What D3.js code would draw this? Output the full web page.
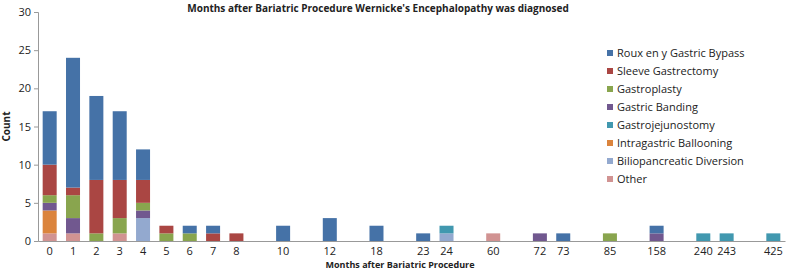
<!DOCTYPE html>
<html>
<head>
<meta charset="utf-8">
<script src="https://cdn.jsdelivr.net/npm/d3@7"></script>
<style>
  body { margin: 0; background: #fff; }
  text { font-family: "Open Sans", "Noto Sans", sans-serif; fill: #222; }
</style>
</head>
<body>
<div id="chart"></div>
<script>
// x categories, "" = empty slot on the axis
const months = ["0","1","2","3","4","5","6","7","8","","10","","12","","18","","23","24","","60","","72","73","","85","","158","","240","243","","425"]

// series in stacking order (bottom first)
const seriesNames = ["Other", "Biliopancreatic Diversion", "Intragastric Ballooning", "Gastrojejunostomy",
    "Gastric Banding", "Gastroplasty", "Sleeve Gastrectomy", "Roux en y Gastric Bypass"]
const seriesColors = ["#D19392", "#93A9CF", "#DB843D", "#4198AF", "#71588F", "#89A54E", "#AA4643", "#4572A7"]

// counts per month slot, same order as months
const other        = [1,1,0,1,0,0,0,0,0,0,0,0,0,0,0,0,0,0,0,1,0,0,0,0,0,0,0,0,0,0,0,0]
const bilio        = [0,0,0,0,3,0,0,0,0,0,0,0,0,0,0,0,0,1,0,0,0,0,0,0,0,0,0,0,0,0,0,0]
const intragastric = [3,0,0,0,0,0,0,0,0,0,0,0,0,0,0,0,0,0,0,0,0,0,0,0,0,0,0,0,0,0,0,0]
const gastrojej    = [0,0,0,0,0,0,0,0,0,0,0,0,0,0,0,0,0,1,0,0,0,0,0,0,0,0,0,0,1,1,0,1]
const banding      = [1,2,0,0,1,0,0,0,0,0,0,0,0,0,0,0,0,0,0,0,0,1,0,0,0,0,1,0,0,0,0,0]
const gastroplasty = [1,3,1,2,1,1,1,0,0,0,0,0,0,0,0,0,0,0,0,0,0,0,0,0,1,0,0,0,0,0,0,0]
const sleeve       = [4,1,7,5,3,1,0,1,1,0,0,0,0,0,0,0,0,0,0,0,0,0,0,0,0,0,0,0,0,0,0,0]
const roux         = [7,17,11,9,4,0,1,1,0,0,2,0,3,0,2,0,1,0,0,0,0,0,1,0,0,0,1,0,0,0,0,0]
const seriesValues = [other, bilio, intragastric, gastrojej, banding, gastroplasty, sleeve, roux]

const yTicks = [0, 5, 10, 15, 20, 25, 30]

const width = 787, height = 271
const margin = {top: 12, right: 2, bottom: 30, left: 38}

const svg = d3.select("#chart").append("svg")
    .attr("width", width)
    .attr("height", height)

const rows = months.map((m, i) => {
    const r = {idx: i}
    seriesNames.forEach((s, j) => r[s] = seriesValues[j][i])
    return r
})
const stacked = d3.stack().keys(seriesNames)(rows)

const x = d3.scaleBand()
    .domain(d3.range(months.length))
    .range([margin.left, width - margin.right])
    .paddingInner(0.4)
    .paddingOuter(0.2)

const y = d3.scaleLinear()
    .domain([0, 30])
    .range([height - margin.bottom, margin.top])

// bars
svg.append("g").selectAll("g")
    .data(stacked)
    .join("g")
    .attr("fill", (d, i) => seriesColors[i])
    .selectAll("rect")
    .data(d => d.filter(v => v[1] > v[0]))
    .join("rect")
    .attr("x", d => x(d.data.idx))
    .attr("width", x.bandwidth())
    .attr("y", d => y(d[1]))
    .attr("height", d => y(d[0]) - y(d[1]))

// y axis
const yAxis = svg.append("g")
    .attr("transform", `translate(${margin.left},0)`)
    .call(d3.axisLeft(y).tickValues(yTicks).tickSize(4).tickPadding(3))
yAxis.select(".domain").attr("stroke", "#999")
yAxis.selectAll(".tick line").attr("stroke", "#999")
yAxis.selectAll("text").style("font-size", "11px").attr("fill", "#222")

// x axis
const xAxis = svg.append("g")
    .attr("transform", `translate(0,${height - margin.bottom})`)
    .call(d3.axisBottom(x).tickFormat(i => months[i]).tickSize(0).tickPadding(6))
xAxis.select(".domain").attr("stroke", "#999")
xAxis.selectAll("text").style("font-size", "11px").attr("fill", "#222")

// titles
svg.append("text")
    .attr("x", 378).attr("y", 12)
    .attr("text-anchor", "middle")
    .style("font-size", "10px").style("font-weight", "bold")
    .text("Months after Bariatric Procedure Wernicke's Encephalopathy was diagnosed")

svg.append("text")
    .attr("x", 400).attr("y", 268)
    .attr("text-anchor", "middle")
    .style("font-size", "9px").style("font-weight", "bold")
    .text("Months after Bariatric Procedure")

svg.append("text")
    .attr("transform", `translate(10,${(margin.top + height - margin.bottom) / 2}) rotate(-90)`)
    .attr("text-anchor", "middle")
    .style("font-size", "10px").style("font-weight", "bold")
    .text("Count")

// legend (top series first)
const legend = svg.append("g").attr("transform", "translate(607,53)")
const legendItems = seriesNames.map((s, i) => ({name: s, color: seriesColors[i]})).reverse()
const li = legend.selectAll("g")
    .data(legendItems)
    .join("g")
    .attr("transform", (d, i) => `translate(0,${i * 18})`)
li.append("rect")
    .attr("x", 0).attr("y", -3)
    .attr("width", 6).attr("height", 6)
    .attr("fill", d => d.color)
li.append("text")
    .attr("x", 10).attr("y", 0)
    .attr("dy", "0.35em")
    .style("font-size", "11px")
    .text(d => d.name)
</script>
</body>
</html>
